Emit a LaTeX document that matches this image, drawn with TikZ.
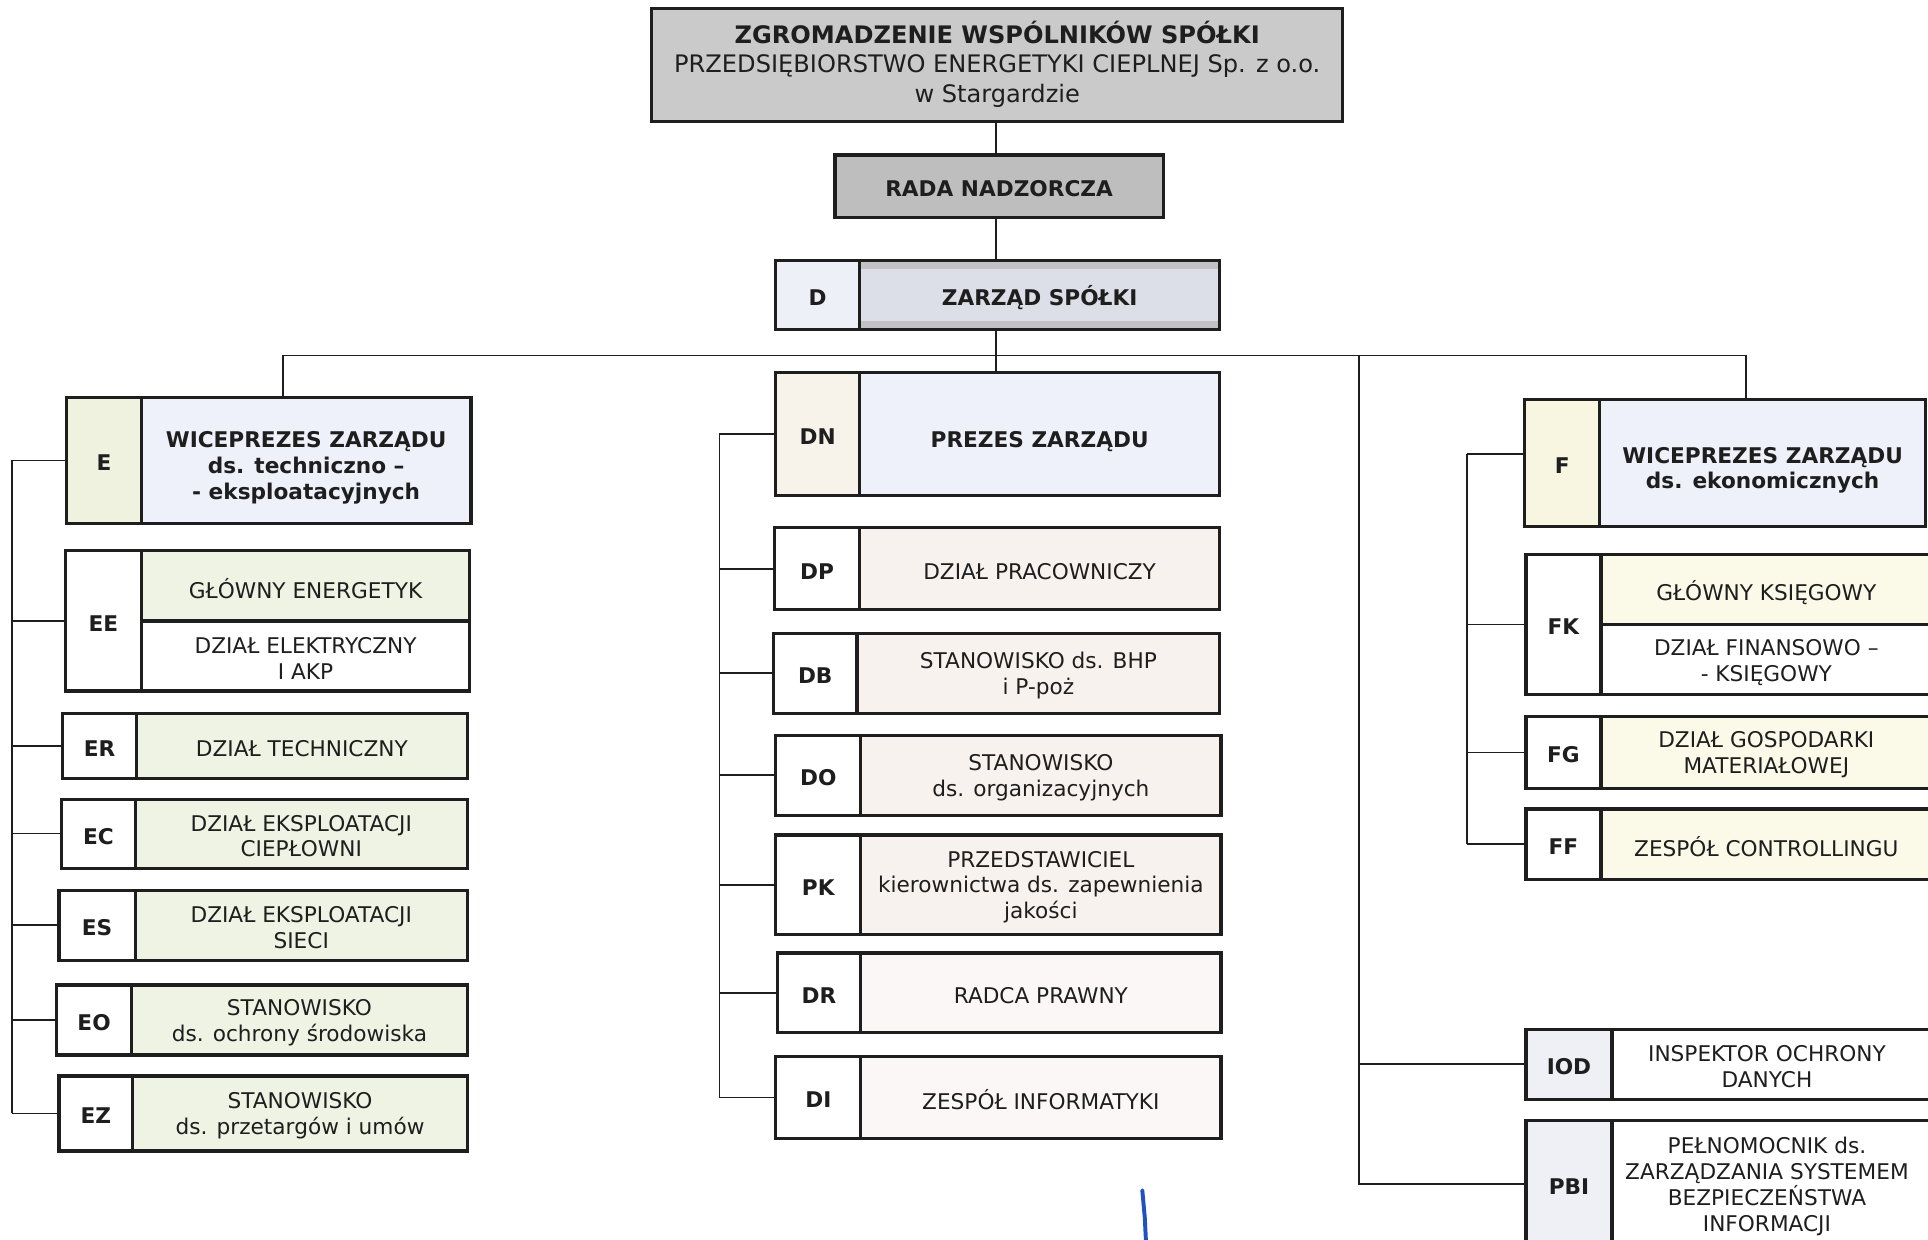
\documentclass[tikz,border=0pt]{standalone}
\usepackage{fontspec}
\setmainfont{DejaVu Sans}
\usetikzlibrary{fit,calc}
\definecolor{ink}{HTML}{1E1E1E}
\definecolor{gtop}{HTML}{CACACA}
\definecolor{grada}{HTML}{BEBEBE}
\definecolor{zmain}{HTML}{DCDFE8}
\definecolor{zband}{HTML}{C2C2C5}
\definecolor{dlab}{HTML}{EEF0F7}
\definecolor{vmain}{HTML}{EEF0FA}
\definecolor{elab}{HTML}{EEF2DF}
\definecolor{egreen}{HTML}{EEF3E4}
\definecolor{dnlab}{HTML}{F7F2EA}
\definecolor{dmain}{HTML}{F8F2EF}
\definecolor{dlight}{HTML}{FBF7F6}
\definecolor{flab}{HTML}{F8F5E0}
\definecolor{fyel}{HTML}{FBF9E7}
\definecolor{ilab}{HTML}{EEF0F6}
\definecolor{pen}{HTML}{2150C0}
\begin{document}
\begin{tikzpicture}[x=0.5pt,y=-0.5pt,
  cell/.style={draw=ink, line width=1.3pt, inner sep=0pt, outer sep=0pt, rectangle},
  conn/.style={draw=ink, line width=0.65pt},
  txt/.style={align=center, text=ink, inner sep=0pt, yshift=-1pt, font=\fontsize{8.8}{10.5}\selectfont},
  btxt/.style={txt, font=\fontsize{8.8}{10.5}\selectfont\bfseries},
  low/.style={yshift=-2pt}]
\useasboundingbox (0,0) rectangle (1568,1008);
\fill[white] (0,0) rectangle (1568,1008);
\clip (0,0) rectangle (1568,1008);

% ---------- top ----------
\node[cell, fill=gtop, fit={(530,7) (1092,99)}] (T) {};
\node[txt, font=\fontsize{9.8}{12}\selectfont, yshift=1.5pt] (Tt) at (T) {\textbf{ZGROMADZENIE WSPÓLNIKÓW SPÓŁKI}\\PRZEDSIĘBIORSTWO ENERGETYKI CIEPLNEJ Sp. z o.o.\\w Stargardzie};

\node[cell, fill=grada, fit={(679,126) (946,177)}] (R) {};
\node[btxt] (Rt) at (R) {RADA NADZORCZA};

\node[cell, fill=dlab, fit={(631,212) (699,268)}] (D) {};
\node[cell, fill=zmain, fit={(699,212) (992,268)}] (Dm) {};
\fill[zband] (699,213) rectangle (992,219);
\fill[zband] (699,261) rectangle (992,267);
\draw[line width=1.3pt, draw=ink] (Dm.north west) rectangle (Dm.south east);
\node[btxt] (Dt) at (D) {D};
\node[btxt] (Dmt) at (Dm) {ZARZĄD SPÓŁKI};

% ---------- left column ----------
\node[cell, fill=elab, fit={(54,323) (115,426)}] (E) {};
\node[cell, fill=vmain, fit={(115,323) (383,426)}] (Em) {};
\node[btxt] (Et) at (E) {E};
\node[btxt, low] (Emt) at (Em) {WICEPREZES ZARZĄDU\\ds. techniczno –\\- eksploatacyjnych};

\node[cell, fill=white, fit={(53,448) (115,562)}] (EE) {};
\node[cell, fill=egreen, fit={(115,448) (382,505)}] (EEa) {};
\node[cell, fill=white, fit={(115,505) (382,562)}] (EEb) {};
\node[btxt] (EEt) at (EE) {EE};
\node[txt] (EEat) at (EEa) {GŁÓWNY ENERGETYK};
\node[txt] (EEbt) at (EEb) {DZIAŁ ELEKTRYCZNY\\I AKP};

\node[cell, fill=white, fit={(51,580) (111,633)}] (ER) {};
\node[cell, fill=egreen, fit={(111,580) (380,633)}] (ERm) {};
\node[btxt] (ERt) at (ER) {ER};
\node[txt] (ERmt) at (ERm) {DZIAŁ TECHNICZNY};

\node[cell, fill=white, fit={(50,650) (110,706)}] (EC) {};
\node[cell, fill=egreen, fit={(110,650) (380,706)}] (ECm) {};
\node[btxt] (ECt) at (EC) {EC};
\node[txt] (ECmt) at (ECm) {DZIAŁ EKSPLOATACJI\\CIEPŁOWNI};

\node[cell, fill=white, fit={(48,724) (110,781)}] (ES) {};
\node[cell, fill=egreen, fit={(110,724) (380,781)}] (ESm) {};
\node[btxt] (ESt) at (ES) {ES};
\node[txt] (ESmt) at (ESm) {DZIAŁ EKSPLOATACJI\\SIECI};

\node[cell, fill=white, fit={(46,801) (107,858)}] (EO) {};
\node[cell, fill=egreen, fit={(107,801) (380,858)}] (EOm) {};
\node[btxt] (EOt) at (EO) {EO};
\node[txt] (EOmt) at (EOm) {STANOWISKO\\ds. ochrony środowiska};

\node[cell, fill=white, fit={(48,875) (108,936)}] (EZ) {};
\node[cell, fill=egreen, fit={(108,875) (380,936)}] (EZm) {};
\node[btxt] (EZt) at (EZ) {EZ};
\node[txt] (EZmt) at (EZm) {STANOWISKO\\ds. przetargów i umów};

% ---------- middle column ----------
\node[cell, fill=dnlab, fit={(631,303) (699,403)}] (DN) {};
\node[cell, fill=vmain, fit={(699,303) (992,403)}] (DNm) {};
\node[btxt] (DNt) at (DN) {DN};
\node[btxt, low] (DNmt) at (DNm) {PREZES ZARZĄDU};

\node[cell, fill=white, fit={(630,429) (699,496)}] (DP) {};
\node[cell, fill=dmain, fit={(699,429) (992,496)}] (DPm) {};
\node[btxt] (DPt) at (DP) {DP};
\node[txt] (DPmt) at (DPm) {DZIAŁ PRACOWNICZY};

\node[cell, fill=white, fit={(629,515) (697,580)}] (DB) {};
\node[cell, fill=dmain, fit={(697,515) (992,580)}] (DBm) {};
\node[btxt] (DBt) at (DB) {DB};
\node[txt] (DBmt) at (DBm) {STANOWISKO ds. BHP\\i P-poż};

\node[cell, fill=white, fit={(631,598) (700,663)}] (DO) {};
\node[cell, fill=dmain, fit={(700,598) (993,663)}] (DOm) {};
\node[btxt] (DOt) at (DO) {DO};
\node[txt] (DOmt) at (DOm) {STANOWISKO\\ds. organizacyjnych};

\node[cell, fill=white, fit={(631,679) (700,760)}] (PK) {};
\node[cell, fill=dmain, fit={(700,679) (993,760)}] (PKm) {};
\node[btxt] (PKt) at (PK) {PK};
\node[txt] (PKmt) at (PKm) {PRZEDSTAWICIEL\\kierownictwa ds. zapewnienia\\jakości};

\node[cell, fill=white, fit={(632,775) (700,840)}] (DR) {};
\node[cell, fill=dlight, fit={(700,775) (993,840)}] (DRm) {};
\node[btxt] (DRt) at (DR) {DR};
\node[txt] (DRmt) at (DRm) {RADCA PRAWNY};

\node[cell, fill=white, fit={(631,859) (700,926)}] (DI) {};
\node[cell, fill=dlight, fit={(700,859) (993,926)}] (DIm) {};
\node[btxt] (DIt) at (DI) {DI};
\node[txt] (DImt) at (DIm) {ZESPÓŁ INFORMATYKI};

% ---------- right column ----------
\node[cell, fill=flab, fit={(1240,325) (1301,428)}] (F) {};
\node[cell, fill=vmain, fit={(1301,325) (1566,428)}] (Fm) {};
\node[btxt] (Ft) at (F) {F};
\node[btxt, low] (Fmt) at (Fm) {WICEPREZES ZARZĄDU\\ds. ekonomicznych};

\node[cell, fill=white, fit={(1241,451) (1302,565)}] (FK) {};
\node[cell, fill=fyel, fit={(1302,451) (1571,508)}] (FKa) {};
\node[cell, fill=white, fit={(1302,508) (1571,565)}] (FKb) {};
\node[btxt] (FKt) at (FK) {FK};
\node[txt] (FKat) at (FKa) {GŁÓWNY KSIĘGOWY};
\node[txt] (FKbt) at (FKb) {DZIAŁ FINANSOWO –\\- KSIĘGOWY};

\node[cell, fill=white, fit={(1241,583) (1302,641)}] (FG) {};
\node[cell, fill=fyel, fit={(1302,583) (1571,641)}] (FGm) {};
\node[btxt] (FGt) at (FG) {FG};
\node[txt] (FGmt) at (FGm) {DZIAŁ GOSPODARKI\\MATERIAŁOWEJ};

\node[cell, fill=white, fit={(1241,658) (1302,715)}] (FF) {};
\node[cell, fill=fyel, fit={(1302,658) (1571,715)}] (FFm) {};
\node[btxt] (FFt) at (FF) {FF};
\node[txt] (FFmt) at (FFm) {ZESPÓŁ CONTROLLINGU};

\node[cell, fill=ilab, fit={(1241,837) (1311,894)}] (IOD) {};
\node[cell, fill=white, fit={(1311,837) (1571,894)}] (IODm) {};
\node[btxt] (IODt) at (IOD) {IOD};
\node[txt, xshift=-2pt] (IODmt) at (IODm) {INSPEKTOR OCHRONY\\DANYCH};

\node[cell, fill=ilab, fit={(1241,911) (1311,1015)}] (PBI) {};
\node[cell, fill=white, fit={(1311,911) (1571,1015)}] (PBIm) {};
\node[btxt] (PBIt) at (PBI) {PBI};
\node[txt, xshift=-2pt] (PBImt) at (PBIm) {PEŁNOMOCNIK ds.\\ZARZĄDZANIA SYSTEMEM\\BEZPIECZEŃSTWA\\INFORMACJI};

% ---------- connectors ----------
\coordinate (spine) at (810,0);
\coordinate (eDrop) at (230,289);
\coordinate (fDrop) at (1420,289);
\coordinate (iDrop) at (1105,289);
\coordinate (lb) at (10,0);
\coordinate (mb) at (585,0);
\coordinate (rb) at (1193,0);

\draw[conn] (spine |- T.south) -- (spine |- R.north);
\draw[conn] (spine |- R.south) -- (spine |- Dm.north);
\draw[conn] (spine |- Dm.south) -- (spine |- DNm.north);
\draw[conn] (eDrop |- Em.north) -- (eDrop) -- (fDrop) -- (fDrop |- Fm.north);
\draw[conn] (iDrop) |- (PBI.west);
\draw[conn] (iDrop |- IOD.west) -- (IOD.west);

\foreach \n in {E,EE,ER,EC,ES,EO,EZ} \draw[conn] (\n.west) -- (\n.west -| lb);
\draw[conn] (E.west -| lb) -- (EZ.west -| lb);

\foreach \n in {DN,DP,DB,DO,PK,DR,DI} \draw[conn] (\n.west) -- (\n.west -| mb);
\draw[conn] (DN.west -| mb) -- (DI.west -| mb);

\coordinate (Fin) at ($(F.north west)!0.43!(F.south west)$);
\draw[conn] (Fin) -- (Fin -| rb);
\foreach \n in {FK,FG,FF} \draw[conn] (\n.west) -- (\n.west -| rb);
\draw[conn] (Fin -| rb) -- (FF.west -| rb);

% pen mark
\draw[pen, line width=1.6pt, line cap=round] (929,968) -- (931,990) -- (932,1010);
\end{tikzpicture}
\end{document}
